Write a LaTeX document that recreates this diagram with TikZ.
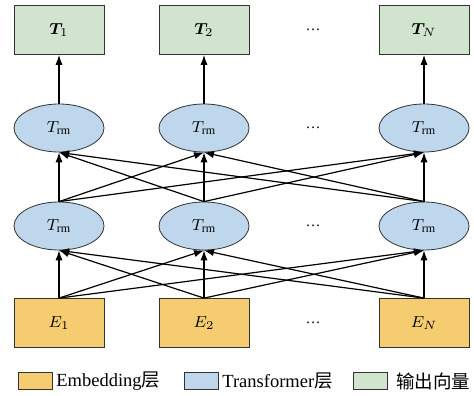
\documentclass[tikz,border=0pt]{standalone}
\usepackage{amsmath}
\usepackage{amssymb}
\usepackage{bm}
\usepackage{fontspec}
\setmainfont{Liberation Serif}
\newfontfamily\cjk{Noto Sans CJK SC}
\usetikzlibrary{shapes.geometric,arrows.meta}
\definecolor{embfill}{RGB}{245,204,112}
\definecolor{trmfill}{RGB}{190,215,237}
\definecolor{outfill}{RGB}{209,228,206}

\begin{document}
\begin{tikzpicture}[x=0.5pt,y=-0.5pt,
  embbox/.style={draw=black!80,fill=embfill,minimum width=45pt,minimum height=24.5pt,inner sep=0pt,font=\fontsize{8}{9}\selectfont},
  outbox/.style={draw=black!80,fill=outfill,minimum width=45pt,minimum height=24.5pt,inner sep=0pt,font=\fontsize{8}{9}\selectfont},
  trm/.style={ellipse,draw=black!80,fill=trmfill,minimum width=45pt,minimum height=24pt,inner sep=0pt,font=\fontsize{8}{9}\selectfont},
  dots/.style={inner sep=0pt,font=\fontsize{7.5}{9}\selectfont},
  legbox/.style={draw=black!80,minimum width=17pt,minimum height=8.5pt,inner sep=0pt},
  legtext/.style={anchor=west,inner sep=0pt,font=\fontsize{9.25}{10}\selectfont},
  conn/.style={-{Latex[length=5pt,width=3.6pt]},line width=0.6pt}]
\useasboundingbox (0,0) rectangle (474,395);
% output vectors along the top
\node[outbox] (t1) at (59,30) {$\bm{T}_1$};
\node[outbox] (t2) at (204,30) {$\bm{T}_2$};
\node[outbox] (tn) at (424,30) {$\bm{T}_N$};
% upper transformer layer
\node[trm] (r1) at (59,128) {$T_{\mathrm{rm}}$};
\node[trm] (r2) at (204,128) {$T_{\mathrm{rm}}$};
\node[trm] (rn) at (424,128) {$T_{\mathrm{rm}}$};
% lower transformer layer
\node[trm] (s1) at (59,226) {$T_{\mathrm{rm}}$};
\node[trm] (s2) at (204,226) {$T_{\mathrm{rm}}$};
\node[trm] (sn) at (424,226) {$T_{\mathrm{rm}}$};
% embeddings at the bottom
\node[embbox] (e1) at (59,323) {$E_1$};
\node[embbox] (e2) at (204,323) {$E_2$};
\node[embbox] (en) at (424,323) {$E_N$};
% the dots between column 2 and column N
\node[dots] (d1) at (313,30) {…};
\node[dots] (d2) at (313,128) {…};
\node[dots] (d3) at (313,226) {…};
\node[dots] (d4) at (313,323) {…};

% embeddings into the lower layer, every one to every one
\draw[conn] (e1.north) -- (s1.south);
\draw[conn] (e1.north) -- (s2.south);
\draw[conn] (e1.north) -- (sn.south);
\draw[conn] (e2.north) -- (s1.south);
\draw[conn] (e2.north) -- (s2.south);
\draw[conn] (e2.north) -- (sn.south);
\draw[conn] (en.north) -- (s1.south);
\draw[conn] (en.north) -- (s2.south);
\draw[conn] (en.north) -- (sn.south);
% lower layer into the upper layer
\draw[conn] (s1.north) -- (r1.south);
\draw[conn] (s1.north) -- (r2.south);
\draw[conn] (s1.north) -- (rn.south);
\draw[conn] (s2.north) -- (r1.south);
\draw[conn] (s2.north) -- (r2.south);
\draw[conn] (s2.north) -- (rn.south);
\draw[conn] (sn.north) -- (r1.south);
\draw[conn] (sn.north) -- (r2.south);
\draw[conn] (sn.north) -- (rn.south);
% upper layer up to the outputs
\draw[conn] (r1.north) -- (t1.south);
\draw[conn] (r2.north) -- (t2.south);
\draw[conn] (rn.north) -- (tn.south);

% legend along the bottom
\node[legbox,fill=embfill] (lemb) at (35,381) {};
\node[legtext] (lembtext) at (56,381) {Embedding{\cjk 层}};
\node[legbox,fill=trmfill] (ltrm) at (201,381) {};
\node[legtext] (ltrmtext) at (222,381) {Transformer{\cjk 层}};
\node[legbox,fill=outfill] (lout) at (370,381) {};
\node[legtext] (louttext) at (396,381) {\cjk 输出向量};
\end{tikzpicture}
\end{document}
